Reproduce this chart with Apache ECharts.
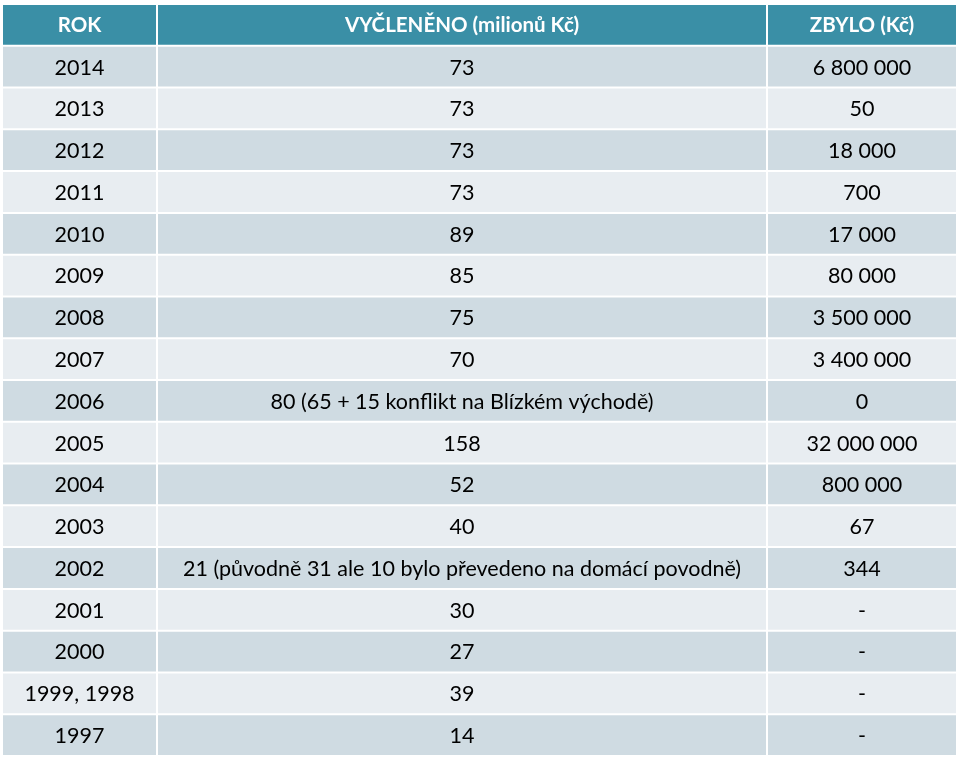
<!DOCTYPE html>
<html><head><meta charset="utf-8">
<script src="https://cdn.jsdelivr.net/npm/echarts@6/dist/echarts.min.js"></script>
<style>html,body{margin:0;padding:0;background:#fff}#c{width:960px;height:759px}</style>
</head><body><div id="c"></div>
<script>
const headers = ['ROK', 'VYČLENĚNO (milionů Kč)', 'ZBYLO (Kč)'];
const years = ['2014','2013','2012','2011','2010','2009','2008','2007','2006','2005','2004','2003','2002','2001','2000','1999, 1998','1997'];
const allocated = ['73','73','73','73','89','85','75','70','80 (65 + 15 konflikt na Blízkém východě)','158','52','40','21 (původně 31 ale 10 bylo převedeno na domácí povodně)','30','27','39','14'];
const remaining = ['6 800 000','50','18 000','700','17 000','80 000','3 500 000','3 400 000','0','32 000 000','800 000','67','344','-','-','-','-'];

const rowLabels = ['header'].concat(years);
const columns = [headers];
for (let i = 0; i < years.length; i++) columns.push([years[i], allocated[i], remaining[i]]);

const COL_EDGES = [0, 155 / 955, 765 / 955, 1];
const GAP = 2;
const FONT = 'Lato, "Open Sans", sans-serif';

const cells = [];
columns.forEach((row, r) => row.forEach((t, c) => cells.push([c, r, t])));

const chart = echarts.init(document.getElementById('c'), null, {renderer: 'canvas'});
chart.setOption({
  animation: false,
  backgroundColor: '#ffffff',
  grid: {left: 2, right: 3, top: 4, bottom: 3},
  xAxis: {type: 'value', min: 0, max: 1, show: false},
  yAxis: {type: 'category', data: rowLabels, inverse: true, show: false},
  series: [{
    type: 'custom',
    data: cells,
    renderItem: function (params, api) {
      const c = api.value(0), r = api.value(1);
      const text = cells[params.dataIndex][2];
      const cs = params.coordSys;
      const yc = api.coord([0, r])[1];
      const h = api.size([0, 1])[1];
      const x0 = cs.x + cs.width * COL_EDGES[c];
      const x1 = cs.x + cs.width * COL_EDGES[c + 1];
      const y0 = yc - h / 2;
      const isHeader = r === 0;
      const fill = isHeader ? '#3A8FA6' : (r % 2 === 1 ? '#CFDBE2' : '#E8EDF1');
      return {
        type: 'group',
        children: [
          {type: 'rect', shape: {x: x0 + GAP / 2, y: y0 + GAP / 2, width: x1 - x0 - GAP, height: h - GAP}, style: {fill: fill}},
          {type: 'text', style: {
            text: text, x: (x0 + x1) / 2, y: yc + 1,
            align: 'center', verticalAlign: 'middle',
            fill: isHeader ? '#ffffff' : '#000000',
            font: isHeader ? 'bold 20.5px ' + FONT : '21.5px ' + FONT
          }}
        ]
      };
    }
  }]
});
</script></body></html>
